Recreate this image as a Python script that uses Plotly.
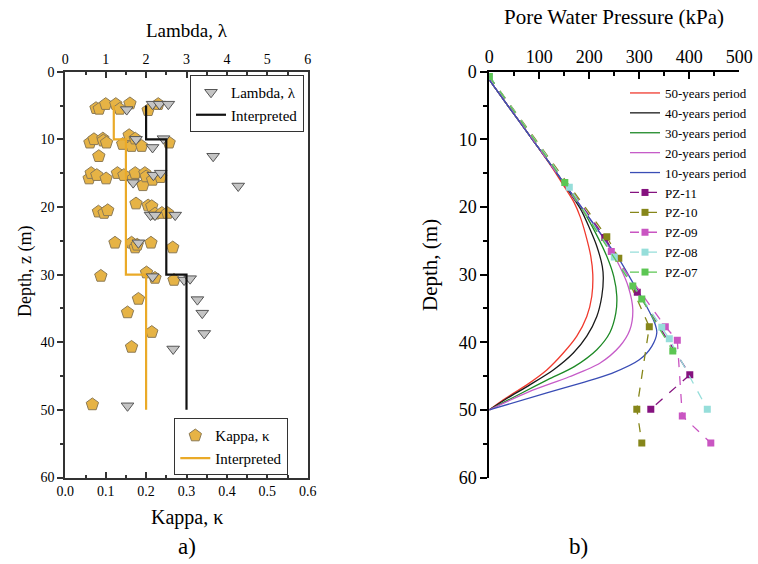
import plotly.graph_objects as go

W, H = 758, 564
def fx(p):
    return p / W
def fy(p):
    return 1 - p / H

FONT = "Liberation Serif"

# ---------------- Left chart data (Kappa / Lambda vs depth) ----------------
kappa_vals = [0.076, 0.084, 0.100, 0.125, 0.135, 0.160, 0.205, 0.230,
              0.061, 0.071, 0.093, 0.094, 0.102, 0.142, 0.158, 0.164, 0.173, 0.189, 0.257,
              0.083,
              0.059, 0.064, 0.078, 0.101, 0.129, 0.145, 0.168, 0.173, 0.192, 0.197, 0.200, 0.216, 0.236,
              0.082, 0.096, 0.105, 0.175, 0.205, 0.214, 0.222, 0.239, 0.253,
              0.123, 0.164, 0.173, 0.178, 0.212, 0.266,
              0.088, 0.201, 0.222, 0.269,
              0.181, 0.154, 0.214, 0.164, 0.067]
kappa_depth = [5.4, 5.5, 4.8, 4.8, 5.5, 4.7, 5.7, 4.8,
               10.5, 10.0, 9.9, 10.2, 10.5, 10.7, 9.4, 11.0, 9.9, 11.0, 10.5,
               12.5,
               15.8, 15.0, 15.3, 15.8, 15.0, 15.3, 15.8, 15.0, 16.8, 15.0, 15.5, 16.0, 15.6,
               20.7, 20.9, 20.5, 19.5, 19.8, 19.9, 21.0, 20.9, 20.9,
               25.3, 25.3, 26.0, 25.6, 25.3, 26.0,
               30.2, 29.7, 30.5, 30.8,
               33.6, 35.6, 38.5, 40.7, 49.2]

lambda_vals = [1.52, 2.16, 2.33, 2.55, 1.75, 2.16, 2.43, 3.66, 1.68, 2.18, 2.36, 4.28,
               2.11, 2.22, 2.72, 1.81, 2.16, 2.94, 3.09, 3.27, 3.39, 3.44, 2.67, 1.54]
lambda_depth = [5.6, 4.8, 4.8, 4.8, 10.0, 11.2, 9.9, 12.5, 16.4, 15.3, 15.0, 16.9,
                21.2, 21.2, 21.2, 25.3, 30.3, 30.8, 30.6, 33.7, 35.7, 38.7, 41.0, 49.4]

interp_depth = [5, 10, 10, 30, 30, 50]
interp_lambda = [2.0, 2.0, 2.5, 2.5, 3.0, 3.0]
interp_kappa = [0.12, 0.12, 0.15, 0.15, 0.20, 0.20]

# ---------------- Right chart data (pore water pressure) ----------------
p50_depth = [1.2, 5, 10, 14, 17, 19.4, 21.5, 23.9, 27.3, 30.0, 33.2, 36.2, 39.1, 41.6, 44.1, 46.3, 48.5, 50]
p50_kpa = [0, 37, 86, 124, 150, 170, 182, 192, 203, 207, 205, 195, 175, 148, 115, 75, 28, 0]

p40_depth = [1.2, 5, 10, 15, 18, 20.5, 22.9, 25.8, 28.8, 30.5, 33.2, 36.2, 39.1, 41.6, 44.1, 46.3, 48.5, 50]
p40_kpa = [0, 37, 86, 135, 162, 184, 199, 215, 226, 228, 225, 215, 195, 168, 128, 81, 31, 0]

p30_depth = [1.2, 5, 10, 15, 20, 23.9, 27.3, 30.3, 33.2, 35.7, 38.6, 41.1, 43.6, 45.5, 47.5, 50]
p30_kpa = [0, 37, 86, 135, 183, 213, 235, 249, 255, 253, 241, 215, 170, 118, 65, 0]

p20_depth = [1.2, 5, 10, 15, 20, 25, 28.8, 31.8, 35.2, 38.2, 40.6, 43.1, 45.1, 47.3, 50]
p20_kpa = [0, 37, 86, 135, 184, 232, 261, 278, 287, 281, 261, 221, 160, 80, 0]

p10_depth = [1.2, 5, 10, 15, 20, 25, 28, 31.3, 34.2, 37.2, 38.6, 40.6, 42.6, 44.6, 46.0, 47.5, 50]
p10_kpa = [0, 37, 86, 135, 184, 233, 262, 288, 311, 331, 335, 325, 300, 245, 185, 115, 0]

pz11_depth = [0.7, 24.5, 32.6, 44.8, 49.9]
pz11_kpa = [0, 231, 296, 401, 323]
pz10_depth = [0.7, 24.4, 27.6, 37.7, 49.9, 54.9]
pz10_kpa = [0, 235, 259, 320, 295, 305]
pz09_depth = [0.7, 26.6, 37.7, 39.7, 50.9, 54.9]
pz09_kpa = [0, 244, 352, 376, 386, 443]
pz08_depth = [0.7, 17.1, 27.4, 37.8, 39.5, 49.9]
pz08_kpa = [0, 160, 250, 345, 360, 436]
pz07_depth = [0.7, 16.4, 31.7, 33.6, 41.3]
pz07_kpa = [0, 151, 287, 305, 367]

fig = go.Figure()

# Left chart
fig.add_trace(go.Scatter(x=lambda_vals, y=lambda_depth, mode="markers", name="Lambda, λ",
                         xaxis="x2", yaxis="y", legend="legend",
                         marker=dict(symbol="triangle-down", size=11, color="#C4C4C4",
                                     line=dict(color="#555555", width=1))))
fig.add_trace(go.Scatter(x=interp_lambda, y=interp_depth, mode="lines", name="Interpreted",
                         xaxis="x2", yaxis="y", legend="legend",
                         line=dict(color="#111111", width=2.2)))
fig.add_trace(go.Scatter(x=kappa_vals, y=kappa_depth, mode="markers", name="Kappa, κ",
                         xaxis="x", yaxis="y", legend="legend2",
                         marker=dict(symbol="pentagon", size=13, color="#E6B345",
                                     line=dict(color="#8C7A55", width=1))))
fig.add_trace(go.Scatter(x=interp_kappa, y=interp_depth, mode="lines", name="Interpreted",
                         xaxis="x", yaxis="y", legend="legend2",
                         line=dict(color="#EAAA28", width=2.2)))

# Right chart curves
curves = [
    ("50-years period", p50_kpa, p50_depth, "#F03A2E"),
    ("40-years period", p40_kpa, p40_depth, "#1A1A1A"),
    ("30-years period", p30_kpa, p30_depth, "#1E8A26"),
    ("20-years period", p20_kpa, p20_depth, "#C65CC8"),
    ("10-years period", p10_kpa, p10_depth, "#3A4DB5"),
]
for name, xs, ys, col in curves:
    fig.add_trace(go.Scatter(x=xs, y=ys, mode="lines", name=name, xaxis="x3", yaxis="y3",
                             legend="legend3", line=dict(color=col, width=1.3, shape="spline", smoothing=0.8)))

pzs = [
    ("PZ-11", pz11_kpa, pz11_depth, "#85127F"),
    ("PZ-10", pz10_kpa, pz10_depth, "#86861A"),
    ("PZ-09", pz09_kpa, pz09_depth, "#C955C2"),
    ("PZ-08", pz08_kpa, pz08_depth, "#96DEDA"),
    ("PZ-07", pz07_kpa, pz07_depth, "#5CC653"),
]
for name, xs, ys, col in pzs:
    fig.add_trace(go.Scatter(x=xs, y=ys, mode="lines+markers", name=name, xaxis="x3", yaxis="y3",
                             legend="legend3", line=dict(color=col, width=1.3, dash="dash"),
                             marker=dict(symbol="square", size=7, color=col)))

ydom = [fy(477.5), fy(71.7)]
tick_l = dict(family=FONT, size=14, color="black")
tick_r = dict(family=FONT, size=18, color="black")
axcol = "#333333"

common = dict(showgrid=False, zeroline=False, automargin=False)

fig.update_layout(
    width=W, height=H, margin=dict(l=0, r=0, t=0, b=0, autoexpand=False),
    paper_bgcolor="white", plot_bgcolor="white",
    font=dict(family=FONT, color="black"),
    xaxis=dict(domain=[fx(65.3), fx(307.7)], anchor="y", side="bottom", range=[0, 0.6],
               dtick=0.1, tickformat=".1f", ticks="inside", ticklen=6, tickwidth=1.5, tickcolor=axcol,
               minor=dict(ticks="inside", ticklen=3, dtick=0.05, tickcolor=axcol),
               showline=True, linecolor=axcol, linewidth=2, mirror=True,
               tickfont=tick_l, **common),
    xaxis2=dict(overlaying="x", anchor="y", side="top", range=[0, 6], dtick=1,
                ticks="inside", ticklen=6, tickwidth=1.5, tickcolor=axcol,
                minor=dict(ticks="inside", ticklen=3, dtick=0.5, tickcolor=axcol),
                showline=True, linecolor=axcol, linewidth=2,
                tickfont=tick_l, **common),
    yaxis=dict(domain=ydom, anchor="x", range=[60, 0], dtick=10,
               ticks="outside", ticklen=6, tickwidth=1.5, tickcolor=axcol,
               minor=dict(ticks="outside", ticklen=3, dtick=5, tickcolor=axcol),
               showline=True, linecolor=axcol, linewidth=2, mirror=True,
               tickfont=tick_l, **common),
    xaxis3=dict(domain=[fx(489.3), fx(739.3)], anchor="y3", side="top", range=[0, 500], dtick=100,
                ticks="inside", ticklen=7, tickwidth=1.5, tickcolor="black",
                minor=dict(ticks="inside", ticklen=4, dtick=50, tickcolor="black"),
                showline=True, linecolor="black", linewidth=2,
                tickfont=tick_r, **common),
    yaxis3=dict(domain=ydom, anchor="x3", range=[60, 0], dtick=10,
                ticks="outside", ticklen=7, tickwidth=1.5, tickcolor="black",
                minor=dict(ticks="outside", ticklen=4, dtick=5, tickcolor="black"),
                showline=True, linecolor="black", linewidth=2,
                tickfont=tick_r, **common),
    legend=dict(x=fx(304), xanchor="right", y=fy(75), yanchor="top",
                bordercolor=axcol, borderwidth=1, bgcolor="white",
                font=dict(family=FONT, size=15, color="black"), tracegroupgap=0),
    legend2=dict(x=fx(288.3), xanchor="right", y=fy(418.3), yanchor="top",
                 bordercolor=axcol, borderwidth=1, bgcolor="white",
                 font=dict(family=FONT, size=15, color="black"), tracegroupgap=0),
    legend3=dict(x=fx(625), xanchor="left", y=fy(78), yanchor="top",
                 borderwidth=0, bgcolor="rgba(0,0,0,0)",
                 font=dict(family=FONT, size=13, color="black"), tracegroupgap=0),
    showlegend=True,
)

annos = [
    ("Lambda, λ", 186.5, 31, 19, 0),
    ("Kappa, κ", 186.5, 517, 20, 0),
    ("Depth, z (m)", 25, 272, 18, -90),
    ("Pore Water Pressure (kPa)", 614, 17, 21, 0),
    ("Depth, (m)", 430, 265, 21, -90),
    ("a)", 186.5, 546, 23, 0),
    ("b)", 578, 546, 23, 0),
]
for text, x, y, size, ang in annos:
    fig.add_annotation(text=text, x=fx(x), y=fy(y), xref="paper", yref="paper",
                       xanchor="center", yanchor="middle", showarrow=False, textangle=ang,
                       font=dict(family=FONT, size=size, color="black"))

fig.write_html("out.html")
